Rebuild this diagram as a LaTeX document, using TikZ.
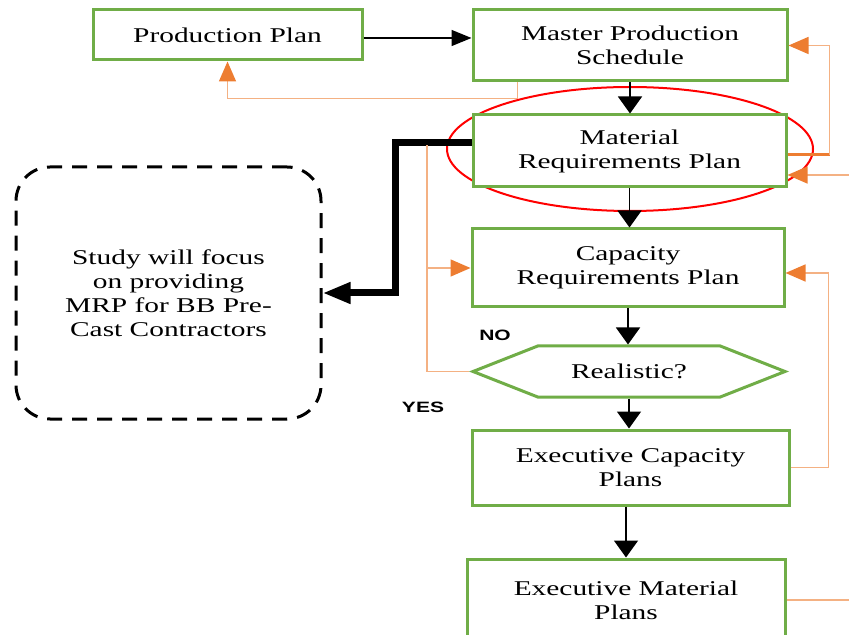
\documentclass[tikz,border=0pt]{standalone}
\usepackage{fontspec}
\setmainfont[FakeStretch=1.4]{Liberation Serif}
\newfontfamily\tagfont[FakeStretch=1.4]{Liberation Sans}
\usetikzlibrary{arrows.meta,calc,shapes.symbols}
\definecolor{boxgreen}{RGB}{112,173,71}
\definecolor{linkorange}{RGB}{244,177,131}
\definecolor{tiporange}{RGB}{237,125,49}
\tikzset{>=latex}
\tikzset{font=\fontsize{10.5}{12}\selectfont}
\tikzset{
  planbox/.style={draw=boxgreen, line width=1.5pt, fill=white, align=center, inner sep=0pt},
  flow/.style={line width=0.75pt, -{Triangle[length=8.5pt,width=12pt]}},
  feedback/.style={draw=linkorange, line width=0.75pt,
    -{Triangle[length=10pt,width=8.5pt,color=tiporange]}},
  orangeline/.style={draw=linkorange, line width=0.75pt},
  tag/.style={font=\tagfont\fontsize{7.5}{9}\selectfont\bfseries}
}
\begin{document}
\begin{tikzpicture}[x=0.5pt,y=-0.5pt]
  \useasboundingbox (0,0) rectangle (849,635);
  % scope of the study, ringed in red
  \draw[red, line width=1pt] (630,149) ellipse [x radius=183, y radius=62];

  \node[planbox, minimum width=134.5pt, minimum height=25pt] (pp) at (227.5,35) {Production Plan};
  \node[planbox, minimum width=157pt, minimum height=35.5pt] (mps) at (630,45.5) {Master Production\\Schedule};
  \node[planbox, minimum width=156.5pt, minimum height=36pt] (mrp) at (629.5,151) {Material\\Requirements Plan};
  \node[planbox, minimum width=156pt, minimum height=39pt] (crp) at (628,268) {Capacity\\Requirements Plan};
  \node[planbox, signal, signal to=west and east, signal pointer angle=43,
    minimum width=156pt, minimum height=25.5pt] (real) at (629,371.5) {Realistic?};
  \node[planbox, minimum width=158.5pt, minimum height=37.5pt] (ecp) at (630.5,467.5) {Executive Capacity\\Plans};
  \node[planbox, minimum width=159pt, minimum height=41pt] (emp) at (626,600) {Executive Material\\Plans};

  \node[draw, line width=1.5pt, dash pattern=on 7.5pt off 5pt, rounded corners=17pt,
    minimum width=152.5pt, minimum height=126pt, align=center] (study) at (168.5,293)
    {Study will focus\\on providing\\MRP for BB Pre-\\Cast Contractors};

  \node[tag] (no) at (495,335) {NO};
  \node[tag] (yes) at (423,407) {YES};

  % main flow
  \coordinate (ppout) at ($(pp.east)+(0,3)$);
  \draw[line width=0.75pt, -{Triangle[length=10pt,width=8pt]}] (ppout) -- (ppout -| mps.west);
  \draw[flow] (mps.south) -- (mps.south |- mrp.north);
  \draw[flow] (mrp.south) -- (mrp.south |- crp.north);
  \draw[flow] (crp.south) -- (crp.south |- real.north);
  \draw[flow] (real.south) -- (real.south |- ecp.north);
  \draw[flow] (ecp.south -| emp.north) -- (emp.north);

  % MRP handed over to the study
  \draw[line width=3.5pt, -{Triangle[length=14pt,width=10pt]}]
    ($(mrp.west)+(0,-8)$) -- ++(-76,0) |- (study.east);

  % feedback loops
  \draw[feedback] ($(mps.south west)+(46,0)$) -- ++(0,16) -| (pp.south);
  \draw[draw=tiporange, line width=1.5pt] ($(mrp.east)+(0,4)$) -- ++(42,0) coordinate (up);
  \draw[feedback] (up) |- (mps.east);
  \coordinate (in) at (849,175);
  \draw[feedback] (in) -- (in -| mrp.east);
  \draw[orangeline] (real.west) -- ++(-42,0) coordinate (nob) -- (nob |- 0,145);
  \draw[feedback] (nob |- crp.west) -- (crp.west);
  \draw[feedback] (ecp.east) -- ++(38,0) |- ($(crp.east)+(0,5)$);
  \coordinate (out) at (849,600);
  \draw[orangeline] (emp.east) -- (out);
\end{tikzpicture}
\end{document}
